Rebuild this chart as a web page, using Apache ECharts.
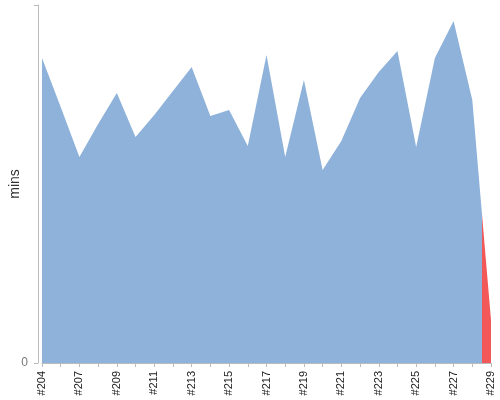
<!DOCTYPE html>
<html lang="en">
<head>
    <meta charset="UTF-8">
    <title>Build times</title>
    <script src="https://cdn.jsdelivr.net/npm/echarts@6/dist/echarts.min.js"></script>
</head>
<body style="margin:0">
    <div id="main" style="width: 500px;height:400px;"></div>

<script type="text/javascript">
    // builds on the x axis (one build between #204 and #207 has no label)
    var builds = ['#204', '#205', '#207', '#208', '#209', '#210', '#211', '#212', '#213',
        '#214', '#215', '#216', '#217', '#218', '#219', '#220', '#221', '#222', '#223',
        '#224', '#225', '#226', '#227', '#228', '#229'];
    // build duration, mins
    var durations = [30.5, 25.6, 20.6, 23.9, 27.0, 22.6, 24.8, 27.2, 29.6,
        24.7, 25.3, 21.7, 30.8, 20.6, 28.3, 19.3, 22.2, 26.5, 29.1,
        31.2, 21.6, 30.5, 34.2, 26.3, 4.3];
    // where the area turns red (build index)
    var failFrom = 23.5;

    var myChart = echarts.init(document.getElementById('main'));
    var blue = '#8fb2da';
    var red = '#f35858';
    var cut = failFrom / (builds.length - 1);

    var option = {
        animation: false,
        grid: {left: 42, right: 9, top: 5, bottom: 37, outerBoundsMode: 'none'},
        xAxis: {
            type: 'category',
            data: builds,
            boundaryGap: false,
            offset: 4,
            axisLine: {lineStyle: {color: '#bbb'}},
            axisTick: {interval: 0, length: 4, lineStyle: {color: '#bbb'}},
            axisLabel: {
                interval: 1,
                rotate: 90,
                fontSize: 11,
                color: '#222',
                margin: 4
            }
        },
        yAxis: {
            type: 'value',
            min: 0,
            max: 35.8,
            interval: 35.8,
            offset: 4,
            name: 'mins',
            nameLocation: 'middle',
            nameGap: 16,
            nameMoveOverlap: false,
            nameTextStyle: {fontSize: 14, color: '#333'},
            axisLine: {show: true, lineStyle: {color: '#bbb'}},
            axisTick: {show: true, length: 4, lineStyle: {color: '#bbb'}},
            splitLine: {show: false},
            axisLabel: {
                fontSize: 12,
                color: '#777',
                margin: 10,
                formatter: function (v) { return v === 0 ? '0' : ''; }
            }
        },
        series: [{
            name: 'duration',
            type: 'line',
            data: durations,
            symbol: 'none',
            lineStyle: {width: 0},
            areaStyle: {
                opacity: 1,
                color: new echarts.graphic.LinearGradient(0, 0, 1, 0, [
                    {offset: 0, color: blue},
                    {offset: cut, color: blue},
                    {offset: cut, color: red},
                    {offset: 1, color: red}
                ])
            }
        }]
    };
    myChart.setOption(option);
</script>
</body>
</html>
